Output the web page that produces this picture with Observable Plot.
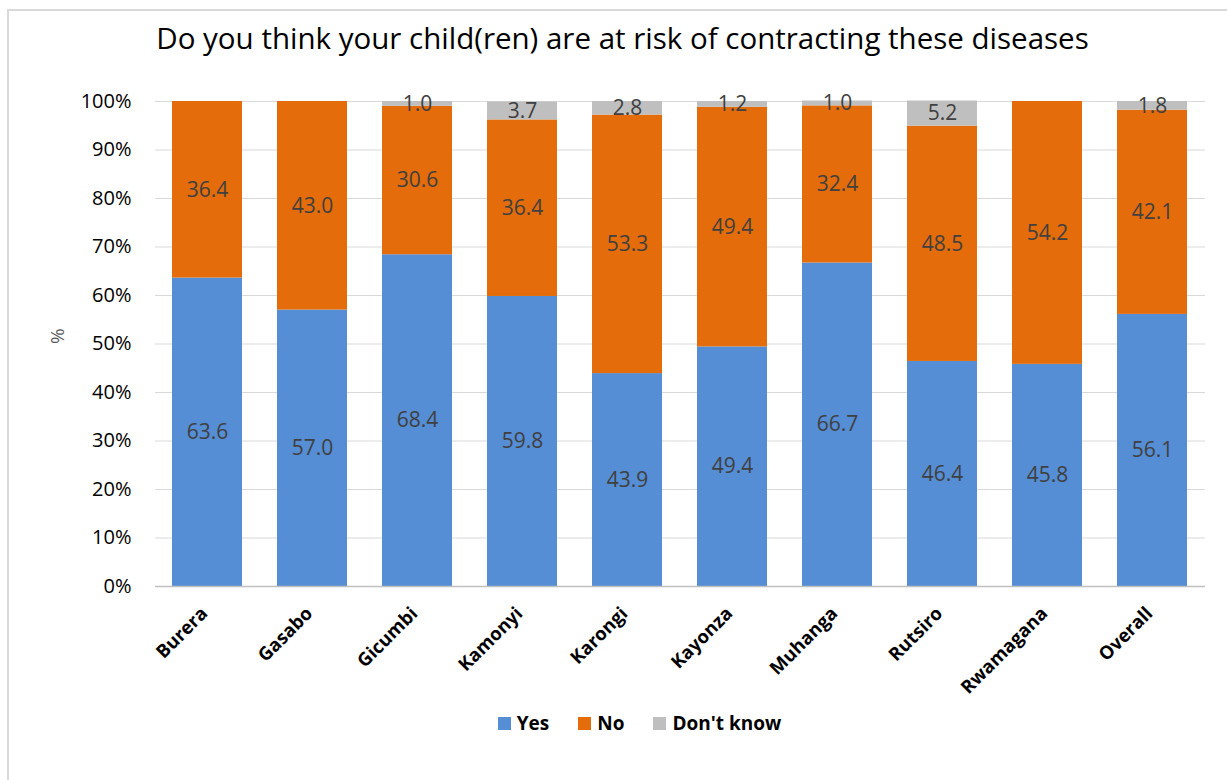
<!DOCTYPE html>
<html>
<head>
<meta charset="utf-8">
<script src="https://cdn.jsdelivr.net/npm/d3@7"></script>
<script src="https://cdn.jsdelivr.net/npm/@observablehq/plot@0.6"></script>
<style>
  html, body { margin: 0; padding: 0; background: #fff; }
  body { width: 1227px; height: 780px; position: relative; overflow: hidden; font-family: "Open Sans", sans-serif; }
  #frame { position: absolute; left: 7px; top: 9px; width: 1240px; height: 800px; border-left: 2px solid #d9d9d9; border-top: 2px solid #d9d9d9; box-sizing: border-box; }
  #title { position: absolute; left: 0; width: 1245px; top: 17px; text-align: center; font-size: 29.5px; color: #000; white-space: nowrap; }
  #chart { position: absolute; left: 0; top: 70px; }
  #legend { position: absolute; top: 710px; left: 0; width: 1227px; display: flex; justify-content: center; gap: 29px; font-size: 19px; font-weight: bold; color: #000; padding-left: 52px; box-sizing: border-box; }
  .item { display: flex; align-items: center; gap: 6px; }
  .sw { width: 13px; height: 13px; display: inline-block; }
</style>
</head>
<body>
<div id="frame"></div>
<div id="title">Do you think your child(ren) are at risk of contracting these diseases</div>
<div id="chart"></div>
<div id="legend"></div>
<script>
const districts = ["Burera", "Gasabo", "Gicumbi", "Kamonyi", "Karongi", "Kayonza", "Muhanga", "Rutsiro", "Rwamagana", "Overall"];
const seriesNames = ["Yes", "No", "Don't know"];
const seriesColors = ["#558ED5", "#E46C0A", "#BFBFBF"];
const yesValues = [63.6, 57.0, 68.4, 59.8, 43.9, 49.4, 66.7, 46.4, 45.8, 56.1];
const noValues = [36.4, 43.0, 30.6, 36.4, 53.3, 49.4, 32.4, 48.5, 54.2, 42.1];
const dontKnowValues = [0, 0, 1.0, 3.7, 2.8, 1.2, 1.0, 5.2, 0, 1.8];
const yTicks = [0, 10, 20, 30, 40, 50, 60, 70, 80, 90, 100];

const seriesValues = [yesValues, noValues, dontKnowValues];
const data = [];
districts.forEach((d, i) => {
  seriesNames.forEach((s, j) => data.push({district: d, series: s, value: seriesValues[j][i]}));
});
const labelData = data.filter(d => d.value > 0);

const chart = Plot.plot({
  width: 1227,
  height: 634,
  marginTop: 31,
  marginBottom: 118,
  marginLeft: 155,
  marginRight: 22,
  style: {fontFamily: "Open Sans, sans-serif", background: "transparent", overflow: "visible"},
  x: {domain: districts, paddingInner: 0.333, paddingOuter: 0.1665, label: null},
  y: {domain: [0, 100], ticks: yTicks, label: null},
  color: {domain: seriesNames, range: seriesColors},
  marks: [
    Plot.gridY(yTicks.slice(1), {stroke: "#d9d9d9", strokeOpacity: 1, strokeWidth: 1}),
    Plot.barY(data, Plot.stackY({x: "district", y: "value", z: "series", fill: "series", order: seriesNames})),
    Plot.ruleY([0], {stroke: "#bfbfbf", strokeWidth: 1.5}),
    Plot.text(labelData, Plot.stackY({x: "district", y: "value", z: "series", order: seriesNames, text: d => d.value.toFixed(1), fill: "#404040", fontSize: 21})),
    Plot.axisY({ticks: yTicks, tickFormat: d => d + "%", tickSize: 0, tickPadding: 24, fontSize: 20, color: "#000", label: null}),
    Plot.axisX({tickSize: 0, tickRotate: -45, tickPadding: 24, fontSize: 18.5, fontWeight: "bold", color: "#000", label: null, dx: -3}),
    Plot.text(["%"], {frameAnchor: "left", dx: -98, dy: 0, rotate: -90, fontSize: 19, fill: "#595959"})
  ]
});
document.getElementById("chart").appendChild(chart);

const legend = document.getElementById("legend");
seriesNames.forEach((s, i) => {
  const it = document.createElement("div");
  it.className = "item";
  it.innerHTML = `<span class="sw" style="background:${seriesColors[i]}"></span><span>${s}</span>`;
  legend.appendChild(it);
});
</script>
</body>
</html>
